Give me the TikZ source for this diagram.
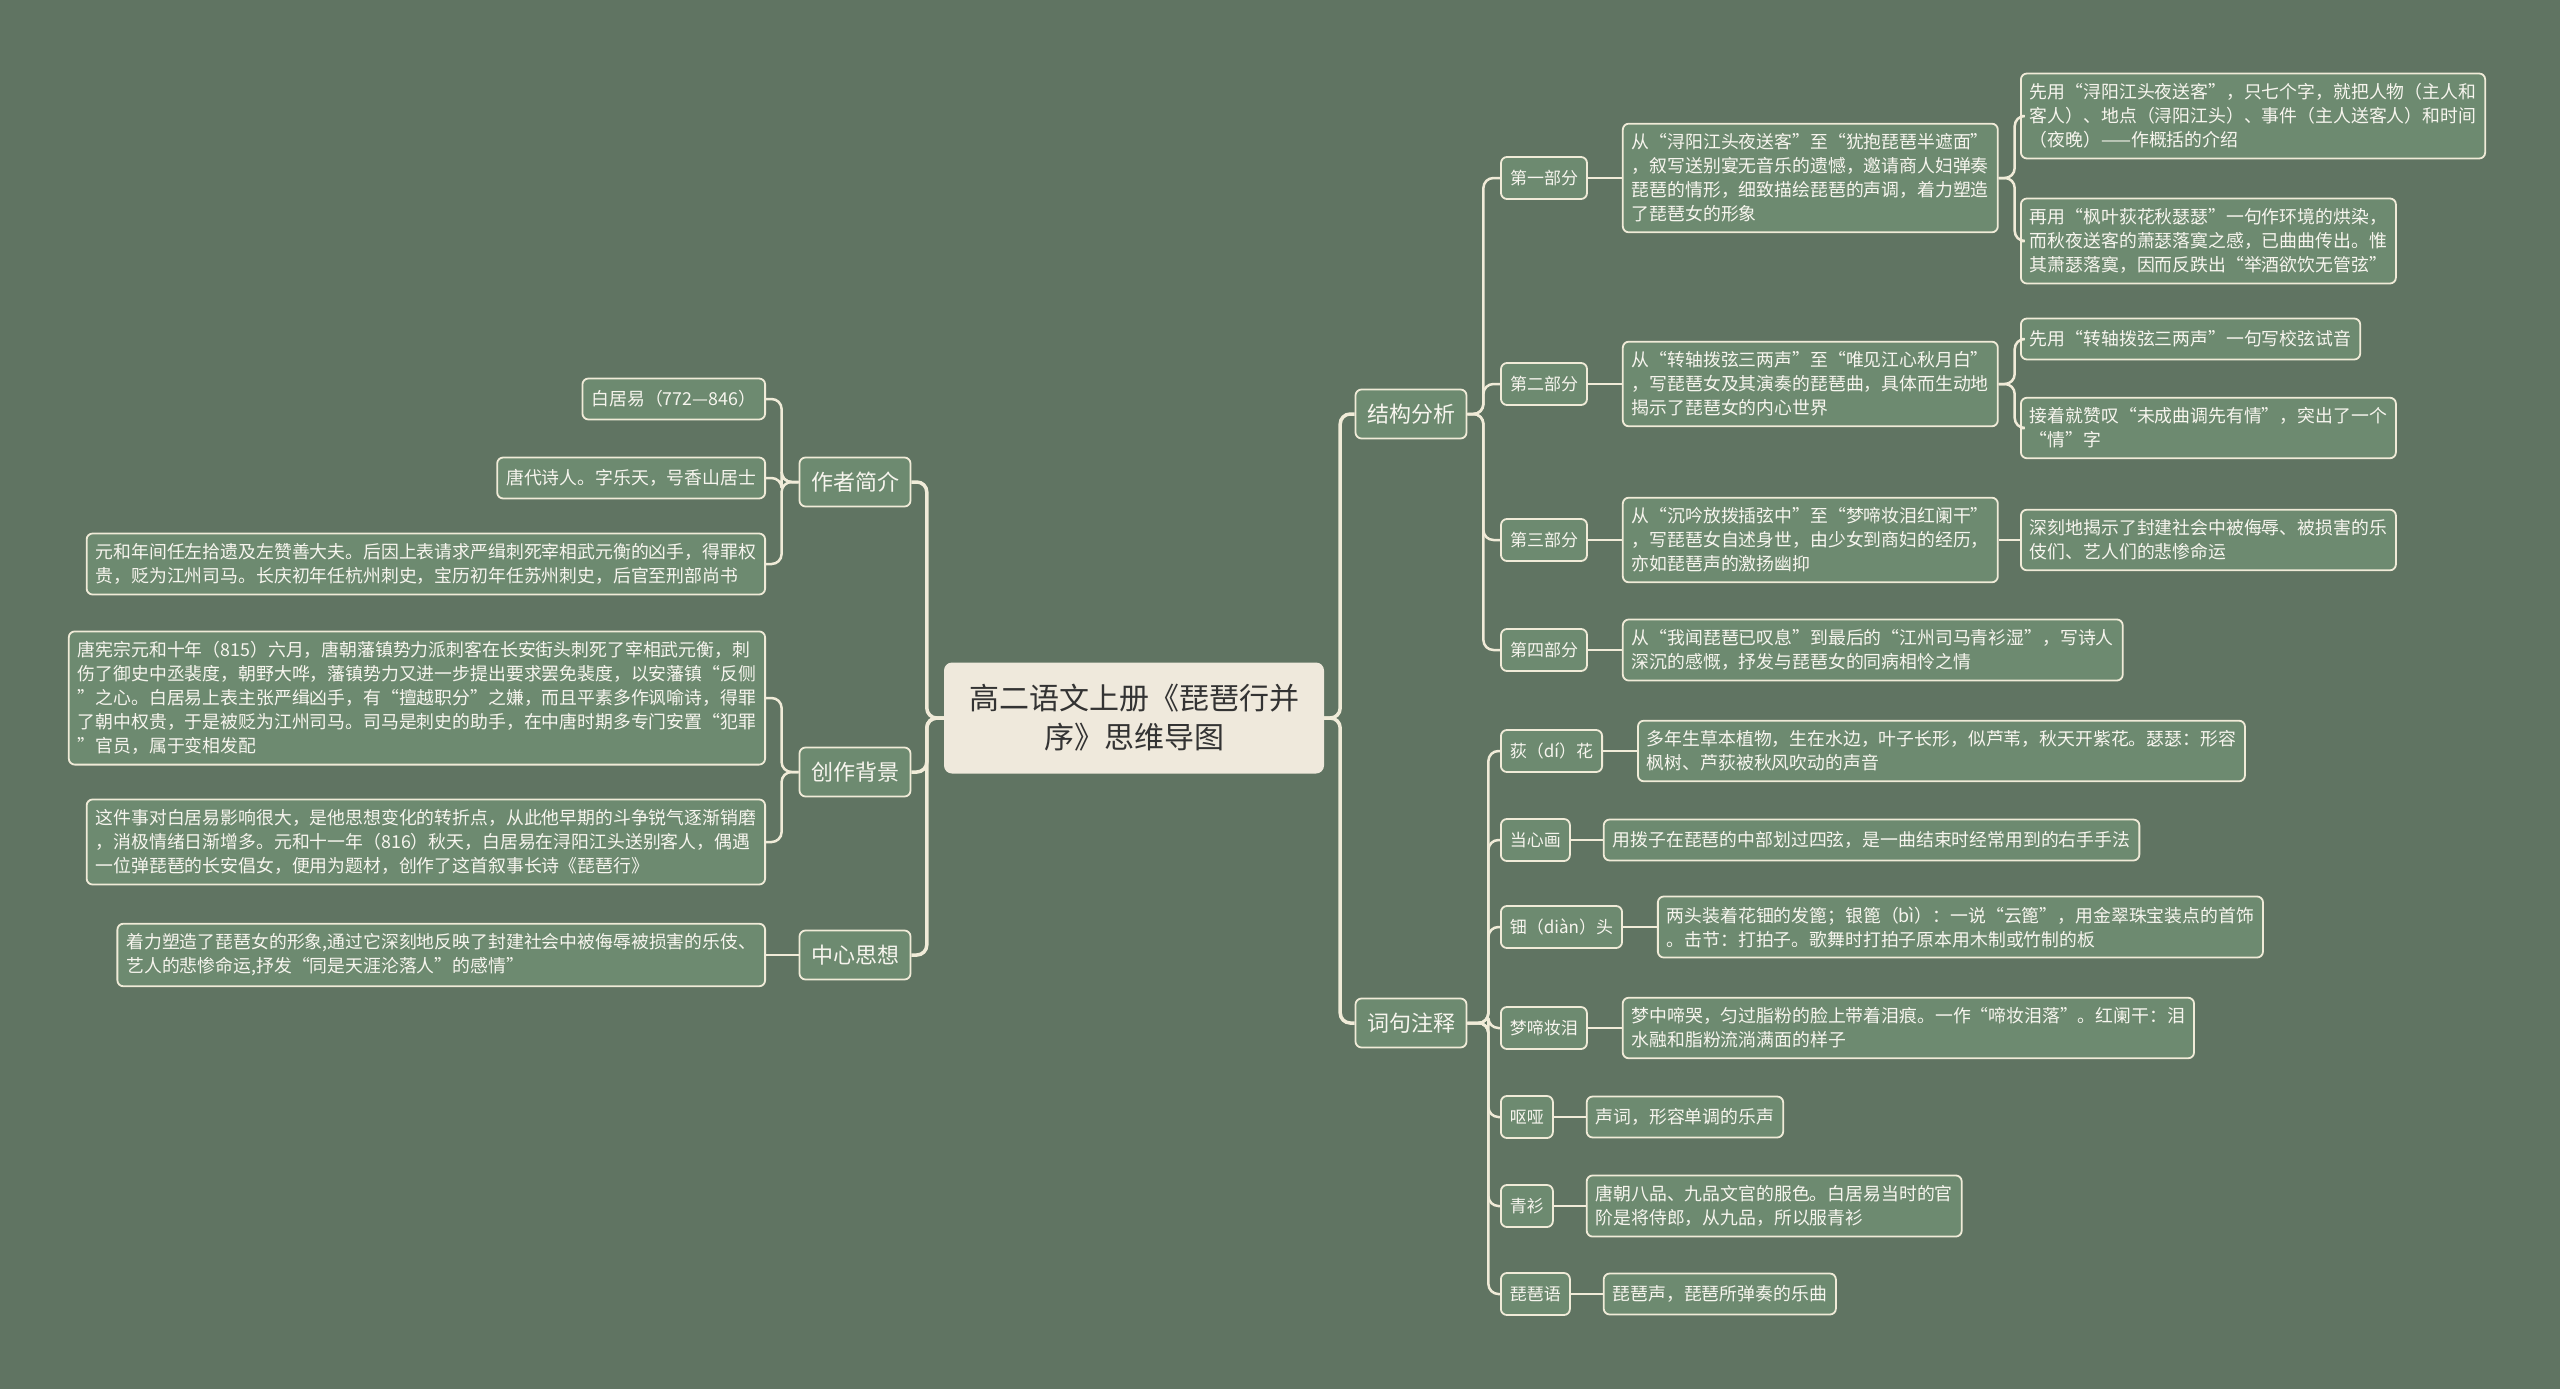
\documentclass[tikz,border=0pt]{standalone}
\usepackage{fontspec}
\setmainfont{Noto Sans CJK SC}
\usetikzlibrary{positioning}
\definecolor{bgc}{HTML}{607462}
\definecolor{nodef}{HTML}{6D8A70}
\definecolor{cream}{HTML}{F0EBD8}
\definecolor{rootf}{HTML}{EFE9DC}
\definecolor{txt}{HTML}{F7F5EE}
\definecolor{roottxt}{HTML}{333333}
\begin{document}
\begin{tikzpicture}[x=1pt,y=-1pt,
 box/.style={draw=cream, line width=1.8pt, fill=nodef, rounded corners=6pt, text=txt, align=left,
   inner xsep=9pt, inner ysep=10pt, minimum height=41pt, font=\fontsize{17.85}{24}\selectfont},
 lone/.style={box, align=center, minimum width=111pt, minimum height=49pt, inner ysep=6pt, font=\fontsize{22}{28}\selectfont},
 ltwo/.style={box, minimum height=42pt, inner ysep=6pt, font=\fontsize{17}{24}\selectfont},
 root/.style={fill=rootf, rounded corners=8pt, text=roottxt, align=center, minimum width=380pt,
   minimum height=111pt, font=\fontsize{30}{39}\selectfont},
 trunk/.style={draw=cream, line width=3.5pt, rounded corners=10pt},
 branch/.style={draw=cream, line width=2.5pt, rounded corners=10pt},
]
\fill[bgc] (0,0) rectangle (2560,1389);
\useasboundingbox (0,0) rectangle (2560,1389);

% root
\node[root] (root) at (1134,718) {高二语文上册《琵琶行并\\序》思维导图};

% level 1
\node[lone] (auth) at (855,482) {作者简介};
\node[lone] (bg) at (855,772) {创作背景};
\node[lone] (idea) at (855,955) {中心思想};
\node[lone] (struct) at (1411,414) {结构分析};
\node[lone] (notes) at (1411,1023) {词句注释};

% left leaves
\node[box, anchor=east] (a1) at (766,399) {白居易（772—846）};
\node[box, anchor=east] (a2) at (766,478) {唐代诗人。字乐天，号香山居士};
\node[box, anchor=east] (a3) at (766,564) {元和年间任左拾遗及左赞善大夫。后因上表请求严缉刺死宰相武元衡的凶手，得罪权\\贵，贬为江州司马。长庆初年任杭州刺史，宝历初年任苏州刺史，后官至刑部尚书};
\node[box, anchor=east] (b1) at (766,698) {唐宪宗元和十年（815）六月，唐朝藩镇势力派刺客在长安街头刺死了宰相武元衡，刺\\伤了御史中丞裴度，朝野大哗，藩镇势力又进一步提出要求罢免裴度，以安藩镇“反侧\\”之心。白居易上表主张严缉凶手，有“擅越职分”之嫌，而且平素多作讽喻诗，得罪\\了朝中权贵，于是被贬为江州司马。司马是刺史的助手，在中唐时期多专门安置“犯罪\\”官员，属于变相发配};
\node[box, anchor=east] (b2) at (766,842) {这件事对白居易影响很大，是他思想变化的转折点，从此他早期的斗争锐气逐渐销磨\\，消极情绪日渐增多。元和十一年（816）秋天，白居易在浔阳江头送别客人，偶遇\\一位弹琵琶的长安倡女，便用为题材，创作了这首叙事长诗《琵琶行》};
\node[box, anchor=east] (c1) at (766,955) {着力塑造了琵琶女的形象,通过它深刻地反映了封建社会中被侮辱被损害的乐伎、\\艺人的悲惨命运,抒发“同是天涯沦落人”的感情”};

% structure
\node[ltwo] (p1) at (1544,178) {第一部分};
\node[ltwo] (p2) at (1544,384) {第二部分};
\node[ltwo] (p3) at (1544,540) {第三部分};
\node[ltwo] (p4) at (1544,650) {第四部分};

\node[box, right=34pt of p1] (p1t) {从“浔阳江头夜送客”至“犹抱琵琶半遮面”\\，叙写送别宴无音乐的遗憾，邀请商人妇弹奏\\琵琶的情形，细致描绘琵琶的声调，着力塑造\\了琵琶女的形象};
\node[box, right=34pt of p2] (p2t) {从“转轴拨弦三两声”至“唯见江心秋月白”\\，写琵琶女及其演奏的琵琶曲，具体而生动地\\揭示了琵琶女的内心世界};
\node[box, right=34pt of p3] (p3t) {从“沉吟放拨插弦中”至“梦啼妆泪红阑干”\\，写琵琶女自述身世，由少女到商妇的经历，\\亦如琵琶声的激扬幽抑};
\node[box, right=34pt of p4] (p4t) {从“我闻琵琶已叹息”到最后的“江州司马青衫湿”，写诗人\\深沉的感慨，抒发与琵琶女的同病相怜之情};

\node[box, anchor=west] (p1a) at (2020,116) {先用“浔阳江头夜送客”，只七个字，就把人物（主人和\\客人）、地点（浔阳江头）、事件（主人送客人）和时间\\（夜晚）——作概括的介绍};
\node[box, anchor=west] (p1b) at (2020,241) {再用“枫叶荻花秋瑟瑟”一句作环境的烘染，\\而秋夜送客的萧瑟落寞之感，已曲曲传出。惟\\其萧瑟落寞，因而反跌出“举酒欲饮无管弦”};
\node[box, anchor=west] (p2a) at (2020,339) {先用“转轴拨弦三两声”一句写校弦试音};
\node[box, anchor=west] (p2b) at (2020,428) {接着就赞叹“未成曲调先有情”，突出了一个\\“情”字};
\node[box, anchor=west] (p3a) at (2020,540) {深刻地揭示了封建社会中被侮辱、被损害的乐\\伎们、艺人们的悲惨命运};

% notes
\node[ltwo, anchor=west] (n1) at (1500,751) {荻（dí）花};
\node[ltwo, anchor=west] (n2) at (1500,840) {当心画};
\node[ltwo, anchor=west] (n3) at (1500,927) {钿（diàn）头};
\node[ltwo, anchor=west] (n4) at (1500,1028) {梦啼妆泪};
\node[ltwo, anchor=west] (n5) at (1500,1117) {呕哑};
\node[ltwo, anchor=west] (n6) at (1500,1206) {青衫};
\node[ltwo, anchor=west] (n7) at (1500,1294) {琵琶语};

\node[box, right=34pt of n1] (m1) {多年生草本植物，生在水边，叶子长形，似芦苇，秋天开紫花。瑟瑟：形容\\枫树、芦荻被秋风吹动的声音};
\node[box, right=32pt of n2] (m2) {用拨子在琵琶的中部划过四弦，是一曲结束时经常用到的右手手法};
\node[box, right=34pt of n3] (m3) {两头装着花钿的发篦；银篦（bì）：一说“云篦”，用金翠珠宝装点的首饰\\。击节：打拍子。歌舞时打拍子原本用木制或竹制的板};
\node[box, right=34pt of n4] (m4) {梦中啼哭，匀过脂粉的脸上带着泪痕。一作“啼妆泪落”。红阑干：泪\\水融和脂粉流淌满面的样子};
\node[box, right=32pt of n5] (m5) {声词，形容单调的乐声};
\node[box, right=32pt of n6] (m6) {唐朝八品、九品文官的服色。白居易当时的官\\阶是将侍郎，从九品，所以服青衫};
\node[box, right=32pt of n7] (m7) {琵琶声，琵琶所弹奏的乐曲};

% connectors: root
\foreach \c in {struct,notes} \draw[trunk] (root.east) -- ++(16,0) |- (\c.west);
\foreach \c in {auth,bg,idea} \draw[trunk] (root.west) -- ++(-17,0) |- (\c.east);

% left
\foreach \c in {a1,a2,a3} \draw[branch] (auth.west) -- ++(-17,0) |- (\c.east);
\foreach \c in {b1,b2} \draw[branch] (bg.west) -- ++(-17,0) |- (\c.east);
\draw[branch] (idea.west) -- (c1.east);

% structure
\foreach \c in {p1,p2,p3,p4} \draw[branch] (struct.east) -- ++(16,0) |- (\c.west);
\draw[branch] (p1.east) -- (p1t.west);
\draw[branch] (p2.east) -- (p2t.west);
\draw[branch] (p3.east) -- (p3t.west);
\draw[branch] (p4.east) -- (p4t.west);
\foreach \c in {p1a,p1b} \draw[branch] (p1t.east) -- ++(16,0) |- (\c.west);
\foreach \c in {p2a,p2b} \draw[branch] (p2t.east) -- ++(16,0) |- (\c.west);
\draw[branch] (p3t.east) -- (p3a.west);

% notes
\foreach \c in {n1,n2,n3,n4,n5,n6,n7} \draw[branch] (notes.east) -- ++(21,0) |- (\c.west);
\foreach \i in {1,...,7} \draw[branch] (n\i.east) -- (m\i.west);
\end{tikzpicture}
\end{document}
